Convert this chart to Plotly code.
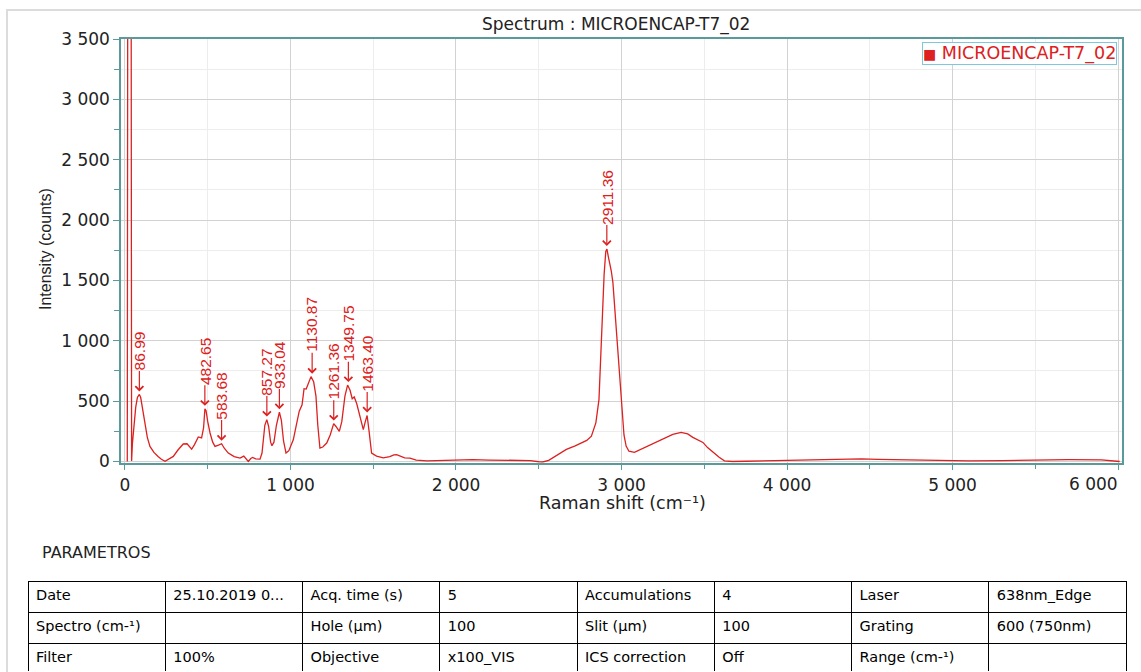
import plotly.graph_objects as go

# ---------------- data ----------------
raman_shift = [14, 18, 36, 40, 45, 55, 65, 75, 87, 95, 105, 121, 135, 151, 175, 200, 220, 242, 265, 292,
               320, 352, 375, 390, 403, 420, 443, 463, 475, 483, 490, 500, 514, 530, 544, 565, 584, 600,
               624, 660, 695, 718, 730, 745, 760, 771, 790, 816, 828, 836, 845, 857, 868, 880, 888, 900,
               915, 933, 945, 958, 973, 990, 1017, 1035, 1053, 1070, 1082, 1095, 1110, 1124, 1140, 1154,
               1165, 1178, 1195, 1219, 1240, 1261, 1275, 1295, 1310, 1329, 1345, 1360, 1373, 1385, 1400,
               1420, 1440, 1452, 1463, 1475, 1490, 1520, 1561, 1600, 1625, 1641, 1660, 1690, 1722, 1760,
               1825, 1900, 2000, 2100, 2200, 2300, 2400, 2450, 2500, 2524, 2560, 2620, 2667, 2720, 2758,
               2790, 2818, 2845, 2864, 2875, 2884, 2895, 2905, 2912, 2920, 2928, 2938, 2948, 2963, 2978,
               2990, 3004, 3015, 3028, 3045, 3078, 3110, 3150, 3189, 3230, 3270, 3310, 3360, 3400, 3431,
               3460, 3492, 3520, 3552, 3590, 3622, 3670, 3750, 3850, 3950, 4050, 4150, 4250, 4350, 4450,
               4550, 4650, 4750, 4850, 4950, 5100, 5300, 5500, 5700, 5900, 5980, 6010]
intensity = [0, 6000, 6000, 5, 150, 330, 450, 530, 556, 530, 440, 292, 200, 125, 75, 42, 18, 2, 20, 42,
             95, 145, 147, 125, 103, 140, 203, 195, 280, 436, 420, 330, 236, 160, 125, 135, 147, 110,
             70, 40, 28, 45, 25, 0, 25, 33, 22, 20, 70, 180, 300, 347, 290, 160, 131, 160,
             300, 408, 340, 170, 70, 90, 180, 300, 417, 470, 603, 600, 660, 703, 660, 541,
             300, 111, 120, 153, 220, 314, 290, 250, 330, 541, 633, 590, 520, 535, 480,
             380, 264, 330, 381, 250, 70, 45, 30, 40, 55, 56, 45, 30, 28, 12,
             5, 8, 10, 15, 12, 10, 5, 8, -2, -4, 10, 60, 100, 130, 155,
             175, 210, 320, 515, 900, 1207, 1550, 1740, 1760, 1700, 1650, 1580, 1484, 1200, 930,
             620, 377, 220, 128, 85, 75, 95, 120, 144, 172, 200, 225, 241, 228, 200,
             180, 158, 115, 75, 35, 5, 0, 2, 5, 10, 12, 15, 18, 20, 22,
             18, 15, 10, 8, 5, 5, 8, 12, 15, 13, 8, 0]

peak_positions = [86.99, 482.65, 583.68, 857.27, 933.04, 1130.87, 1261.36, 1349.75, 1463.40, 2911.36]
peak_heights = [556, 436, 147, 347, 408, 703, 314, 633, 381, 1760]

series_name = "MICROENCAP-T7_02"
x_ticks = [0, 1000, 2000, 3000, 4000, 5000, 6000]
x_tick_labels = ["0", "1 000", "2 000", "3 000", "4 000", "5 000", "6 000"]
y_ticks = [0, 500, 1000, 1500, 2000, 2500, 3000, 3500]
y_tick_labels = ["0", "500", "1 000", "1 500", "2 000", "2 500", "3 000", "3 500"]

param_rows = [
    ["Date", "25.10.2019 0...", "Acq. time (s)", "5", "Accumulations", "4", "Laser", "638nm_Edge"],
    ["Spectro (cm-¹)", "", "Hole (µm)", "100", "Slit (µm)", "100", "Grating", "600 (750nm)"],
    ["Filter", "100%", "Objective", "x100_VIS", "ICS correction", "Off", "Range (cm-¹)", ""],
]

# ---------------- layout helpers ----------------
W, H = 1141, 672
FONT = "DejaVu Sans, Liberation Sans, sans-serif"
VFONT = "Liberation Sans, Arial, sans-serif"
RED = "#dd2020"
AXIS = "#5a9a9a"


def px(x):
    return x / W


def py(y):
    return 1 - y / H


# the last x tick label is right-aligned against the frame edge (as in the reference),
# so it is drawn as an annotation anchored at that tick instead of a centred tick label
x_tick_text = x_tick_labels[:-1] + [""]

fig = go.Figure()
fig.add_trace(go.Scatter(x=raman_shift, y=intensity, mode="lines",
                         line=dict(color=RED, width=1.3), showlegend=False,
                         hoverinfo="x+y"))

annotations = []
for xp, yp in zip(peak_positions, peak_heights):
    label_text = f"{xp:.2f}"
    text_len = sum(4.3 if c == "." else 8.6 for c in label_text)
    annotations.append(dict(
        x=xp, y=yp, xref="x", yref="y", text=label_text, textangle=-90,
        showarrow=True, ax=0, ay=-(24 + text_len / 2), axref="pixel", ayref="pixel",
        arrowhead=4, arrowsize=1.3, arrowwidth=1.2, arrowcolor=RED, standoff=3,
        font=dict(family=VFONT, size=15.5, color=RED), borderpad=0))

annotations.append(dict(
    x=x_ticks[-1], xref="x", y=py(484), yref="paper", text=x_tick_labels[-1],
    xanchor="right", yanchor="middle", showarrow=False, xshift=2,
    font=dict(family=FONT, size=17, color="#222")))


def label(text, x, y, size=15, family=FONT, **kw):
    d = dict(text=text, x=px(x), y=py(y), xref="paper", yref="paper", xanchor="center",
             yanchor="middle", showarrow=False, font=dict(family=family, size=size, color="#222"))
    d.update(kw)
    return d


annotations += [
    label("Spectrum : MICROENCAP-T7_02", 616, 25, size=17),
    label("Raman shift (cm⁻¹)", 622, 503, size=17.5),
    label("Intensity (counts)", 45, 249, size=16, family=VFONT, textangle=-90),
    label("PARAMETROS", 40, 552, size=16, xanchor="left"),
    dict(text="<span style='font-size:14px'>■</span> " + series_name, x=px(1117), y=py(42),
         xref="paper", yref="paper", xanchor="right", yanchor="top", showarrow=False,
         bordercolor="#7fc8dc", borderwidth=1, borderpad=0, bgcolor="white",
         font=dict(family=FONT, size=17.5, color=RED)),
]

fig.add_trace(go.Table(
    domain=dict(x=[px(28), px(1126)], y=[0, py(581)]),
    columnwidth=[1] * 8,
    header=dict(values=param_rows[0], align="left", height=31,
                fill_color="white", line=dict(color="black", width=1),
                font=dict(family=FONT, size=14.5, color="black")),
    cells=dict(values=[[r[i] for r in param_rows[1:]] for i in range(8)], align="left", height=31,
               fill_color="white", line=dict(color="black", width=1),
               font=dict(family=FONT, size=14.5, color="black")),
))

fig.update_layout(
    width=W, height=H,
    margin=dict(l=0, r=0, t=0, b=0),
    paper_bgcolor="white", plot_bgcolor="white",
    font=dict(family=FONT, size=14, color="#222"),
    annotations=annotations,
    shapes=[dict(type="rect", xref="paper", yref="paper", x0=px(7), x1=px(1150), y0=py(690), y1=py(10),
                 line=dict(color="#dcdcdc", width=2), layer="below")],
    xaxis=dict(domain=[px(121), px(1122)], range=[-24, 6024], automargin=False,
               tickvals=x_ticks, ticktext=x_tick_text, ticks="outside", ticklen=6,
               tickcolor=AXIS, showline=True, linecolor=AXIS, linewidth=1.5, mirror=True,
               showgrid=True, gridcolor="#d2d2d2", gridwidth=1.2, zeroline=False,
               tickfont=dict(family=FONT, size=17, color="#222"),
               minor=dict(tickvals=[500, 1500, 2500, 3500, 4500, 5500], ticks="outside", ticklen=5,
                          tickcolor=AXIS, showgrid=True, gridcolor="#ededed", gridwidth=1)),
    yaxis=dict(domain=[py(462.7), py(39)], range=[-10, 3500], automargin=False,
               tickvals=y_ticks, ticktext=y_tick_labels, ticks="outside", ticklen=6,
               tickcolor=AXIS, showline=True, linecolor=AXIS, linewidth=1.5, mirror=True,
               showgrid=True, gridcolor="#d2d2d2", gridwidth=1.2, zeroline=False,
               tickfont=dict(family=FONT, size=17, color="#222"),
               minor=dict(tickvals=[250, 750, 1250, 1750, 2250, 2750, 3250], ticks="outside", ticklen=5,
                          tickcolor=AXIS, showgrid=True, gridcolor="#ededed", gridwidth=1)),
)

fig.write_html("out.html", config={"displayModeBar": False},
               post_script="document.body.style.margin='0';")
